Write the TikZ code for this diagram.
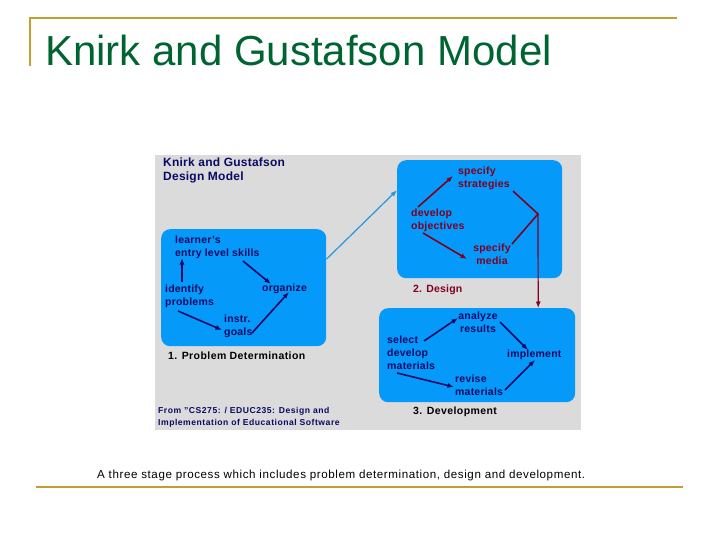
\documentclass[tikz,border=0pt]{standalone}
\usepackage{fontspec}
\setmainfont{Liberation Sans}
\usetikzlibrary{arrows.meta,calc}
\definecolor{gold}{RGB}{196,158,50}
\definecolor{titlegreen}{RGB}{0,100,50}
\definecolor{panelgray}{RGB}{219,219,219}
\definecolor{boxblue}{RGB}{5,153,250}
\definecolor{navy}{RGB}{10,10,100}
\definecolor{darkred}{RGB}{128,0,32}
\definecolor{linkblue}{RGB}{40,150,220}
\tikzset{
  lbl/.style={inner sep=0pt, anchor=north west, align=left, font=\bfseries\addfontfeature{LetterSpace=2}\fontsize{10.5}{13}\selectfont},
  bluebox/.style={fill=boxblue, rounded corners=9pt, inner sep=0pt, anchor=north west},
  arr/.style={-{Latex[length=6.5pt,width=5pt]}, line width=1.6pt},
  goldline/.style={draw=gold, line width=2.6pt},
}
\begin{document}
\begin{tikzpicture}[x=1pt,y=-1pt]
\useasboundingbox (0,0) rectangle (720,540);
% slide frame
\draw[goldline] (30,66) -- (30,18) -- (677,18);
\node[anchor=base west, inner sep=0pt, text=titlegreen, font=\fontsize{42}{46}\selectfont] (title) at (45,66) {Knirk and Gustafson Model};
\draw[goldline] (36,487) -- (683,487);
\node[anchor=base west, inner sep=0pt, font=\addfontfeature{LetterSpace=5}\fontsize{11.6}{13}\selectfont] (caption) at (97,478) {A three stage process which includes problem determination, design and development.};
% panel
\fill[panelgray] (155,155) rectangle (581,430);
\node[lbl, text=navy, font=\bfseries\addfontfeature{LetterSpace=2}\fontsize{12}{14}\selectfont] (head) at (163,158) {Knirk and Gustafson\\Design Model};
% boxes
\node[bluebox, minimum width=165pt, minimum height=117pt] (box1) at (161,229) {};
\node[bluebox, minimum width=165pt, minimum height=118pt] (box2) at (397,160) {};
\node[bluebox, minimum width=196pt, minimum height=94pt] (box3) at (379,308) {};
% box 1
\node[lbl, text=navy] (learner) at (175,236) {learner's\\entry level skills};
\node[lbl, text=navy] (ident) at (165,285) {identify\\problems};
\node[lbl, text=navy] (organize) at (262,284) {organize};
\node[lbl, text=navy] (instr) at (224,315) {instr.\\goals};
\node[lbl, text=black, font=\bfseries\addfontfeature{LetterSpace=4}\fontsize{10.5}{13}\selectfont] (pd) at (168,352) {1. Problem Determination};
\begin{scope}[navy]
\draw[arr] ($(ident.north west)+(17,-3)$) -- ($(learner.north west)+(7,22)$);
\draw[arr] ($(learner.north west)+(68,25)$) -- ($(organize.north west)+(9,0)$);
\draw[arr] ($(ident.north west)+(13,26)$) -- ($(instr.north west)+(-2,15)$);
\draw[arr] ($(instr.north west)+(28,18)$) -- ($(organize.north west)+(27,8)$);
\end{scope}
% box 2
\node[lbl, text=darkred] (strat) at (458,167) {specify\\strategies};
\node[lbl, text=darkred] (devobj) at (411,209) {develop\\objectives};
\node[lbl, text=darkred, anchor=north, align=center] (media) at (492,244) {specify\\media};
\node[lbl, text=darkred] (design) at (413,285) {2. Design};
\coordinate (join) at (538,214);
\begin{scope}[darkred]
\draw[arr] ($(devobj.north west)+(7,-2)$) -- ($(strat.north west)+(-5,9)$);
\draw[arr] ($(devobj.north west)+(12,24)$) -- ($(media.north)+(-25,15)$);
\draw[line width=1.6pt] ($(strat.north west)+(55,24)$) -- (join) -- ($(media.north)+(20,0)$);
\draw[arr, line width=1.2pt] (join) -- ($(box3.north)+(61,0)$);
\end{scope}
\draw[arr, linkblue, line width=1.2pt] ($(box1.east)+(0,-28.5)$) -- ($(box2.west)+(0,-29)$);
% box 3
\node[lbl, text=navy, anchor=north, align=center] (analyze) at (478,312) {analyze\\results};
\node[lbl, text=navy] (select) at (387,336) {select\\develop\\materials};
\node[lbl, text=navy] (implement) at (507,350) {implement};
\node[lbl, text=navy] (revise) at (455,375) {revise\\materials};
\node[lbl, text=black, font=\bfseries\addfontfeature{LetterSpace=4}\fontsize{10.5}{13}\selectfont] (dev) at (413,407) {3. Development};
\begin{scope}[navy]
\draw[arr] ($(select.north west)+(37,5)$) -- ($(analyze.north)+(-20,6)$);
\draw[arr] ($(analyze.north)+(22,10)$) -- ($(implement.north west)+(21,0)$);
\draw[arr] ($(select.north west)+(10,37)$) -- ($(revise.north west)+(-1,12)$);
\draw[arr] ($(revise.north west)+(50,15)$) -- ($(implement.north west)+(28,10)$);
\end{scope}
\node[lbl, text=navy, font=\bfseries\addfontfeature{LetterSpace=6}\fontsize{8.6}{12}\selectfont] (src) at (158,407) {From "CS275: / EDUC235: Design and\\Implementation of Educational Software};
\end{tikzpicture}
\end{document}
